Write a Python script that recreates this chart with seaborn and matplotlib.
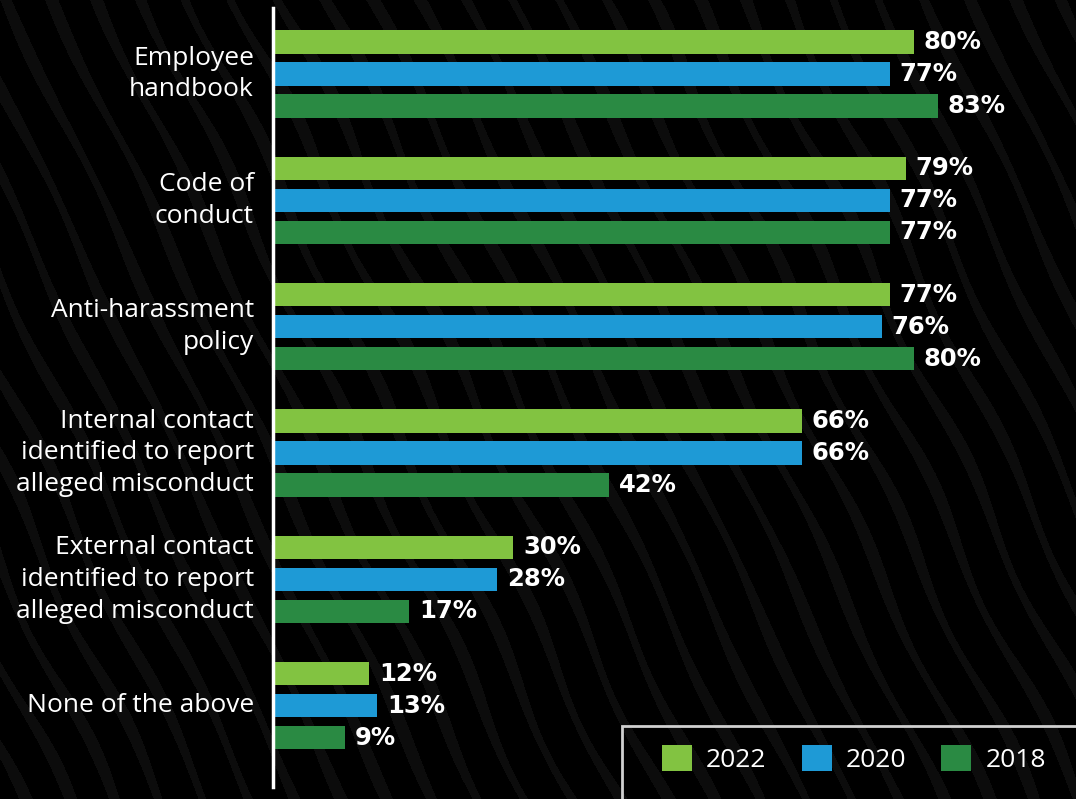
import numpy as np
import pandas as pd
import matplotlib
matplotlib.use("Agg")
import matplotlib.pyplot as plt
from matplotlib.patches import Rectangle
import seaborn as sns

# Policies in place, by survey year (% of respondents)
categories = [
    "Employee\nhandbook",
    "Code of\nconduct",
    "Anti-harassment\npolicy",
    "Internal contact\nidentified to report\nalleged misconduct",
    "External contact\nidentified to report\nalleged misconduct",
    "None of the above",
]
years = ["2022", "2020", "2018"]
values_2022 = [80, 79, 77, 66, 30, 12]
values_2020 = [77, 77, 76, 66, 28, 13]
values_2018 = [83, 77, 80, 42, 17, 9]
year_colors = ["#82C341", "#1E9AD6", "#2A8A43"]

df = pd.DataFrame({
    "policy": categories * 3,
    "year": np.repeat(years, len(categories)),
    "share": values_2022 + values_2020 + values_2018,
})

sns.set_theme(style="dark")
plt.rcParams["font.family"] = ["Open Sans", "DejaVu Sans"]

W, H = 1076, 799
fig = plt.figure(figsize=(W / 100, H / 100), dpi=100, facecolor="black")

# dark textured backdrop: faint wavy diagonal stripes
bg = fig.add_axes([0, 0, 1, 1], zorder=0)
yy, xx = np.mgrid[0:H, 0:W]
u = xx - 0.48 * yy + 4 * np.sin(yy / 45.0 + xx / 140.0)
phase = np.mod(u, 46)
stripe_w = 11 + 3 * np.sin(yy / 60.0 + xx / 50.0)
texture = np.where(phase < stripe_w, 0.05, 0.0)
bg.imshow(texture, cmap="gray", vmin=0, vmax=1, aspect="auto",
          interpolation="bilinear")
bg.set_axis_off()

ax = fig.add_axes([273 / W, 12 / H, 801 / W, 779 / H], zorder=1)
ax.patch.set_alpha(0)

sns.barplot(data=df, y="policy", x="share", hue="year", order=categories,
            hue_order=years, palette=year_colors, orient="h", width=0.76,
            gap=0.27, saturation=1, linewidth=0, ax=ax)

for container in ax.containers:
    ax.bar_label(container,
                 labels=[f"{v:.0f}%" for v in container.datavalues],
                 padding=7, color="white", fontsize=17.5, fontweight="bold",
                 family="DejaVu Sans")

ax.set_xlim(0, 100)
ax.set_ylim(5.645, -0.5226)
ax.set_xticks([])
ax.set_xlabel("")
ax.set_ylabel("")
for side in ["top", "right", "bottom"]:
    ax.spines[side].set_visible(False)
ax.spines["left"].set_color("white")
ax.spines["left"].set_linewidth(2.5)
ax.tick_params(axis="y", length=0, pad=13.7, labelsize=19, labelcolor="white")
for t in ax.get_yticklabels():
    t.set_linespacing(1.36)
    t.set_verticalalignment("center")

handles, labels = ax.get_legend_handles_labels()
ax.get_legend().remove()

fig.patches.append(Rectangle((622 / W, -0.05), 0.5, (1 - 726 / H) + 0.05,
                             transform=fig.transFigure, fill=False,
                             edgecolor="#d0d0d0", linewidth=2, zorder=2))
fig.legend(handles, labels, loc="upper left",
           bbox_to_anchor=(662 / W, 1 - 745 / H), ncol=3, frameon=False,
           fontsize=19, handlelength=1.14, handleheight=1.14,
           handletextpad=0.53, columnspacing=1.33, borderpad=0,
           borderaxespad=0, labelcolor="white")

fig.savefig("out.png", dpi=100, facecolor="black")
